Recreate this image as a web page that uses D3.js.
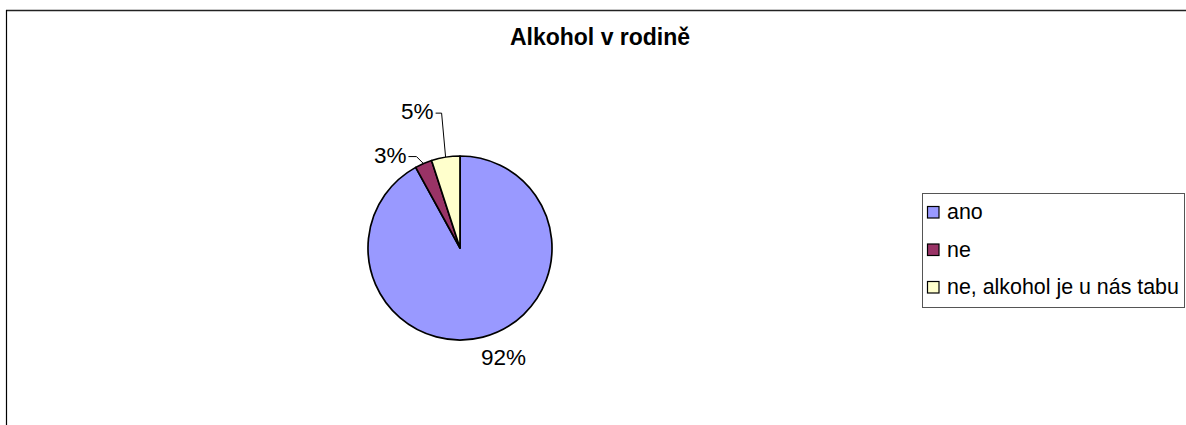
<!DOCTYPE html>
<html>
<head>
<meta charset="utf-8">
<script src="https://cdn.jsdelivr.net/npm/d3@7"></script>
<style>
  html, body { margin: 0; padding: 0; background: #fff; }
  svg { display: block; }
  text { font-family: "Liberation Sans", Arial, sans-serif; fill: #000; }
</style>
</head>
<body>
<svg id="chart" width="1186" height="425"></svg>
<script>
// Survey answers: alcohol in the family
const categories = ["ano", "ne", "ne, alkohol je u nás tabu"];
const values = [92, 3, 5];
const colors = ["#9999FF", "#993366", "#FFFFCC"];
const labels = ["92%", "3%", "5%"];
const title = "Alkohol v rodině";

const W = 1186, H = 425;
const svg = d3.select("#chart");

// outer chart frame (only the top and left edges fall inside the view)
svg.append("line").attr("x1", 6).attr("x2", W).attr("y1", 10.5).attr("y2", 10.5)
  .attr("stroke", "#222").attr("stroke-width", 1.6);
svg.append("line").attr("x1", 6.5).attr("x2", 6.5).attr("y1", 10).attr("y2", H)
  .attr("stroke", "#000").attr("stroke-width", 1.2);

// title
svg.append("text")
  .attr("x", 600).attr("y", 45)
  .attr("text-anchor", "middle")
  .style("font-size", "23px").style("font-weight", "bold")
  .text(title);

// pie
const cx = 460, cy = 248, r = 92;
const pie = d3.pie().sort(null).value(d => d)(values);
const arc = d3.arc().innerRadius(0).outerRadius(r);
const g = svg.append("g").attr("transform", `translate(${cx},${cy})`);

g.selectAll("path.slice").data(pie).join("path")
  .attr("class", "slice")
  .attr("d", arc)
  .attr("fill", (d, i) => colors[i])
  .attr("stroke", "#000").attr("stroke-width", 1.7)
  .attr("stroke-linejoin", "round");

// data labels: the big slice gets its label beside the rim,
// the small ones are pulled out with a leader line
const edge = d => {
  const a = (d.startAngle + d.endAngle) / 2;
  return [r * Math.sin(a), -r * Math.cos(a)];
};
const labelLayout = [
  { leader: false, dx: -2, dy: 28, anchor: "start" },
  { leader: true, elbow: [-7, -7], tail: -8, anchor: "end", dy: 6 },
  { leader: true, elbow: [-4, -44], tail: -6, anchor: "end", dy: 6 }
];

pie.forEach((d, i) => {
  const [ex, ey] = edge(d);
  const L = labelLayout[i];
  if (!L.leader) {
    g.append("text")
      .attr("x", ex + L.dx).attr("y", ey + L.dy)
      .attr("text-anchor", L.anchor)
      .style("font-size", "22.5px")
      .text(labels[i]);
  } else {
    const bx = ex + L.elbow[0], by = ey + L.elbow[1];
    const tx = bx + L.tail;
    g.append("polyline")
      .attr("points", `${ex},${ey} ${bx},${by} ${tx},${by}`)
      .attr("fill", "none").attr("stroke", "#000").attr("stroke-width", 1);
    g.append("text")
      .attr("x", tx - 2).attr("y", by + L.dy)
      .attr("text-anchor", L.anchor)
      .style("font-size", "22.5px")
      .text(labels[i]);
  }
});

// legend
const lg = svg.append("g").attr("transform", "translate(922,193)");
lg.append("rect").attr("x", 0.5).attr("y", 0.5).attr("width", 262).attr("height", 114)
  .attr("fill", "#fff").attr("stroke", "#555").attr("stroke-width", 1);
const rowY = d3.scalePoint().domain(categories).range([26, 101]);
const items = lg.selectAll("g.item").data(categories).join("g")
  .attr("class", "item")
  .attr("transform", d => `translate(0,${rowY(d)})`);
items.append("rect")
  .attr("x", 5.5).attr("y", -12.5).attr("width", 11.5).attr("height", 11.5)
  .attr("fill", (d, i) => colors[i])
  .attr("stroke", "#000").attr("stroke-width", 1.2);
items.append("text")
  .attr("x", 25).attr("y", 0)
  .style("font-size", "21.4px")
  .text(d => d);
</script>
</body>
</html>
